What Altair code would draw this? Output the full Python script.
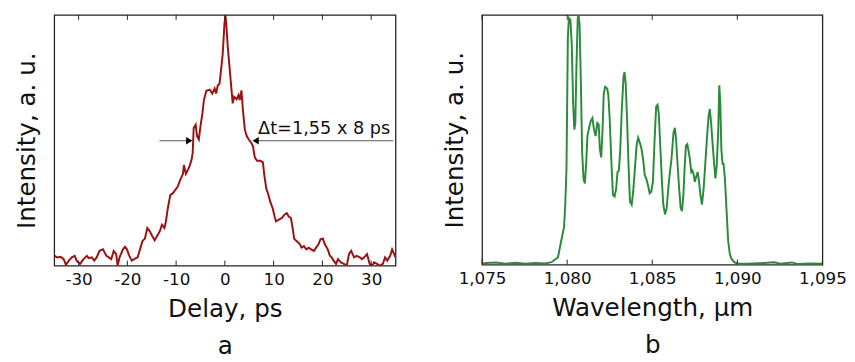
import altair as alt
import pandas as pd

# ---------------- panel a: autocorrelation ----------------
delay_ps = [-34.9, -34.4, -33.7, -33.05, -32.6, -32.0, -31.4, -30.8, -30.4, -29.7,
            -29.0, -28.3, -27.9, -27.3, -26.8, -26.3, -25.7, -25.0, -24.3, -23.8,
            -23.3, -22.8, -22.3, -22.0, -21.6, -20.9, -20.5, -20.1, -19.6, -19.1,
            -18.6, -17.9, -17.4, -16.9, -16.4, -15.9, -15.4, -14.9, -14.4, -13.9,
            -13.35, -12.9, -12.4, -12.1, -11.7, -11.2, -10.7, -10.2, -9.7, -9.2,
            -8.6, -8.4, -8.0, -7.5, -7.2, -6.8, -6.6, -6.4, -6.0, -5.7,
            -5.35, -5.0, -4.6, -4.3, -3.8, -3.1, -2.6, -2.1, -1.8, -1.45,
            -1.1, -0.8, -0.45, -0.1, 0.1, 0.3, 0.6, 0.9, 1.25, 1.6,
            1.9, 2.4, 2.8, 3.05, 3.4, 3.7, 4.1, 4.5, 4.9, 5.4,
            5.75, 6.15, 6.6, 7.3, 7.8, 8.1, 8.5, 8.85, 9.3, 9.8,
            10.2, 10.5, 11.0, 11.7, 12.2, 12.7, 13.1, 13.55, 13.9, 14.2,
            14.7, 15.4, 15.7, 16.2, 16.7, 17.2, 17.7, 18.25, 18.7, 19.2,
            19.6, 20.1, 20.5, 21.1, 21.55, 21.9, 22.3, 22.8, 23.2, 23.8,
            24.4, 25.0, 25.45, 25.9, 26.5, 27.0, 27.7, 28.1, 28.6, 29.15,
            29.7, 30.2, 30.6, 31.2, 31.7, 32.4, 32.85, 33.3, 33.9, 34.3,
            35.0]
ac_intensity = [0.039, 0.033, 0.035, 0.026, 0.003, 0.020, 0.033, 0.039, 0.020, 0.007,
                0.026, 0.039, 0.030, 0.033, 0.020, 0.033, 0.059, 0.065, 0.039, 0.033,
                0.026, 0.059, 0.046, 0.000, 0.033, 0.065, 0.075, 0.065, 0.039, 0.020,
                0.026, 0.033, 0.065, 0.098, 0.108, 0.150, 0.137, 0.118, 0.101, 0.118,
                0.137, 0.163, 0.150, 0.176, 0.229, 0.281, 0.288, 0.301, 0.314, 0.340,
                0.366, 0.401, 0.366, 0.386, 0.399, 0.425, 0.451, 0.549, 0.562, 0.516,
                0.503, 0.556, 0.608, 0.660, 0.697, 0.702, 0.686, 0.706, 0.686, 0.719,
                0.725, 0.778, 0.843, 0.961, 1.000, 0.961, 0.869, 0.804, 0.725, 0.647,
                0.673, 0.663, 0.680, 0.660, 0.699, 0.621, 0.542, 0.516, 0.503, 0.490,
                0.477, 0.431, 0.418, 0.418, 0.412, 0.359, 0.307, 0.288, 0.255, 0.229,
                0.196, 0.176, 0.183, 0.190, 0.203, 0.209, 0.196, 0.190, 0.150, 0.108,
                0.098, 0.085, 0.072, 0.078, 0.065, 0.072, 0.065, 0.059, 0.072, 0.085,
                0.105, 0.108, 0.085, 0.065, 0.039, 0.033, 0.020, 0.007, 0.026, 0.013,
                0.007, 0.000, 0.046, 0.059, 0.033, 0.039, 0.033, 0.026, 0.033, 0.046,
                0.007, 0.000, 0.013, 0.007, 0.000, 0.007, 0.033, 0.020, 0.039, 0.065,
                0.033]
delay_ticks = [-30, -20, -10, 0, 10, 20, 30]

# FWHM annotation
arrow_x_start = [-13.4, 6.4]
arrow_x_end = [-7.6, 34.5]
arrow_y = [0.498, 0.498]
head_x = [-7.3, 6.3]
head_shape = ["triangle-right", "triangle-left"]
note_text = ["Δt=1,55 x 8 ps"]
note_x = [6.8]
note_y = [0.523]

# ---------------- panel b: spectrum ----------------
wavelength_um = [1.07500, 1.07523, 1.07581, 1.07638, 1.07696, 1.07754, 1.07812, 1.07869, 1.07908, 1.07927,
                 1.07946, 1.07965, 1.07981, 1.07988, 1.07996, 1.08004, 1.08010, 1.08019, 1.08027, 1.08035,
                 1.08042, 1.08048, 1.08054, 1.08062, 1.08067, 1.08073, 1.08081, 1.08088, 1.08096, 1.08104,
                 1.08112, 1.08119, 1.08129, 1.08138, 1.08148, 1.08158, 1.08167, 1.08177, 1.08185, 1.08192,
                 1.08200, 1.08208, 1.08215, 1.08223, 1.08235, 1.08242, 1.08250, 1.08260, 1.08269, 1.08279,
                 1.08288, 1.08296, 1.08304, 1.08312, 1.08321, 1.08331, 1.08337, 1.08344, 1.08352, 1.08360,
                 1.08369, 1.08379, 1.08388, 1.08398, 1.08408, 1.08417, 1.08427, 1.08437, 1.08446, 1.08456,
                 1.08465, 1.08475, 1.08485, 1.08494, 1.08504, 1.08513, 1.08523, 1.08531, 1.08538, 1.08548,
                 1.08558, 1.08565, 1.08575, 1.08585, 1.08594, 1.08604, 1.08613, 1.08625, 1.08633, 1.08640,
                 1.08648, 1.08658, 1.08667, 1.08675, 1.08683, 1.08690, 1.08698, 1.08706, 1.08713, 1.08721,
                 1.08729, 1.08736, 1.08744, 1.08750, 1.08758, 1.08767, 1.08775, 1.08783, 1.08792, 1.08802,
                 1.08811, 1.08821, 1.08831, 1.08838, 1.08846, 1.08854, 1.08863, 1.08871, 1.08879, 1.08888,
                 1.08894, 1.08900, 1.08906, 1.08913, 1.08919, 1.08927, 1.08937, 1.08946, 1.08956, 1.08965,
                 1.08981, 1.09004, 1.09062, 1.09158, 1.09215, 1.09254, 1.09321, 1.09350, 1.09427, 1.09500]
sp_intensity = [0.004, 0.007, 0.009, 0.004, 0.008, 0.004, 0.007, 0.005, 0.010, 0.020,
                0.030, 0.096, 0.148, 0.227, 0.384, 0.908, 0.987, 0.980, 0.882, 0.646,
                0.541, 0.567, 0.777, 0.987, 1.000, 0.961, 0.712, 0.450, 0.345, 0.325,
                0.410, 0.515, 0.548, 0.574, 0.587, 0.541, 0.515, 0.567, 0.561, 0.463,
                0.430, 0.541, 0.685, 0.712, 0.705, 0.679, 0.581, 0.410, 0.279, 0.273,
                0.305, 0.371, 0.377, 0.463, 0.620, 0.751, 0.771, 0.725, 0.581, 0.410,
                0.253, 0.240, 0.292, 0.384, 0.476, 0.509, 0.489, 0.463, 0.423, 0.358,
                0.345, 0.318, 0.286, 0.292, 0.332, 0.489, 0.633, 0.640, 0.607, 0.463,
                0.318, 0.240, 0.201, 0.227, 0.305, 0.371, 0.423, 0.528, 0.548, 0.502,
                0.410, 0.305, 0.227, 0.214, 0.279, 0.384, 0.476, 0.482, 0.456, 0.423,
                0.371, 0.377, 0.358, 0.332, 0.351, 0.371, 0.332, 0.279, 0.240, 0.305,
                0.397, 0.501, 0.594, 0.623, 0.567, 0.489, 0.410, 0.345, 0.397, 0.541,
                0.718, 0.646, 0.463, 0.404, 0.404, 0.345, 0.214, 0.096, 0.043, 0.024,
                0.010, 0.004, 0.004, 0.007, 0.010, 0.004, 0.009, 0.003, 0.005, 0.004]
wl_ticks = [1.075, 1.080, 1.085, 1.090, 1.095]

FONT = "DejaVu Sans"
RED = "#9a1212"
GREEN = "#2b8a3c"
TICK_LEN = 0.02

# ---------- panel a ----------
df_a = pd.DataFrame({"delay": delay_ps, "intensity": ac_intensity})
x_a = alt.X("delay:Q",
            scale=alt.Scale(domain=[-35, 35], nice=False, zero=False),
            axis=alt.Axis(values=delay_ticks, ticks=False, domain=False, grid=False,
                          labelFontSize=17, labelPadding=6, labelFlush=False,
                          labelExpr="replace(datum.label, '\u2212', '-')",
                          title=["Delay, ps", "a"], titleFontSize=25, titleFontWeight="normal",
                          titlePadding=10, titleLineHeight=37))
y_a = alt.Y("intensity:Q",
            scale=alt.Scale(domain=[0, 1], nice=False, zero=False),
            axis=alt.Axis(labels=False, ticks=False, domain=False, grid=False,
                          title="Intensity, a. u.", titleFontSize=25, titleFontWeight="normal",
                          titlePadding=20, titleBaseline="alphabetic"))

line_a = alt.Chart(df_a).mark_line(color=RED, strokeWidth=2, clip=True).encode(x=x_a, y=y_a)

ticks_a = pd.DataFrame({"delay": delay_ticks})
tb_a = alt.Chart(ticks_a).mark_rule(color="#222", strokeWidth=1).encode(
    x="delay:Q", y=alt.datum(0), y2=alt.datum(TICK_LEN))
tt_a = alt.Chart(ticks_a).mark_rule(color="#222", strokeWidth=1).encode(
    x="delay:Q", y=alt.datum(1 - TICK_LEN), y2=alt.datum(1))

arrows = pd.DataFrame({"delay": arrow_x_start, "delay_end": arrow_x_end, "intensity": arrow_y})
arrow_lines = alt.Chart(arrows).mark_rule(color="#555", strokeWidth=1).encode(
    x="delay:Q", x2="delay_end:Q", y="intensity:Q")
heads = pd.DataFrame({"delay": head_x, "intensity": arrow_y, "shape": head_shape})
arrow_heads = alt.Chart(heads).mark_point(filled=True, color="black", size=55, opacity=1).encode(
    x="delay:Q", y="intensity:Q", shape=alt.Shape("shape:N", scale=None, legend=None))
note = pd.DataFrame({"delay": note_x, "intensity": note_y, "text": note_text})
note_mark = alt.Chart(note).mark_text(align="left", baseline="alphabetic", fontSize=18,
                                      font=FONT, color="#111").encode(
    x="delay:Q", y="intensity:Q", text="text:N")

panel_a = alt.layer(line_a, tb_a, tt_a, arrow_lines, arrow_heads, note_mark).properties(
    width=347, height=255)

# ---------- panel b ----------
df_b = pd.DataFrame({"wl": wavelength_um, "intensity": sp_intensity})
x_b = alt.X("wl:Q",
            scale=alt.Scale(domain=[1.075, 1.095], nice=False, zero=False),
            axis=alt.Axis(values=wl_ticks, ticks=False, domain=False, grid=False,
                          labelFontSize=17, labelPadding=6, labelFlush=False,
                          labelExpr="replace(format(datum.value, '.3f'), '.', ',')",
                          title=["Wavelength, \u03bcm", "b"], titleFontSize=25,
                          titleFontWeight="normal", titlePadding=10, titleLineHeight=37))
y_b = alt.Y("intensity:Q",
            scale=alt.Scale(domain=[0, 1], nice=False, zero=False),
            axis=alt.Axis(labels=False, ticks=False, domain=False, grid=False,
                          title="Intensity, a. u.", titleFontSize=25, titleFontWeight="normal",
                          titlePadding=20, titleBaseline="alphabetic"))
line_b = alt.Chart(df_b).mark_line(color=GREEN, strokeWidth=2, clip=True).encode(x=x_b, y=y_b)

ticks_b = pd.DataFrame({"wl": wl_ticks})
tb_b = alt.Chart(ticks_b).mark_rule(color="#222", strokeWidth=1).encode(
    x="wl:Q", y=alt.datum(0), y2=alt.datum(TICK_LEN))
tt_b = alt.Chart(ticks_b).mark_rule(color="#222", strokeWidth=1).encode(
    x="wl:Q", y=alt.datum(1 - TICK_LEN), y2=alt.datum(1))

panel_b = alt.layer(line_b, tb_b, tt_b).properties(width=346, height=254)

chart = alt.hconcat(panel_a, panel_b, spacing=46).properties(
    padding={"left": 6, "top": 2, "right": 0, "bottom": 0},
    background="white"
).configure_view(
    stroke="#222", strokeWidth=1.3
).configure_axis(
    labelFont=FONT, titleFont=FONT, labelColor="#111", titleColor="#111"
)

chart.save("out.html", embed_options={"renderer": "svg", "actions": False})
